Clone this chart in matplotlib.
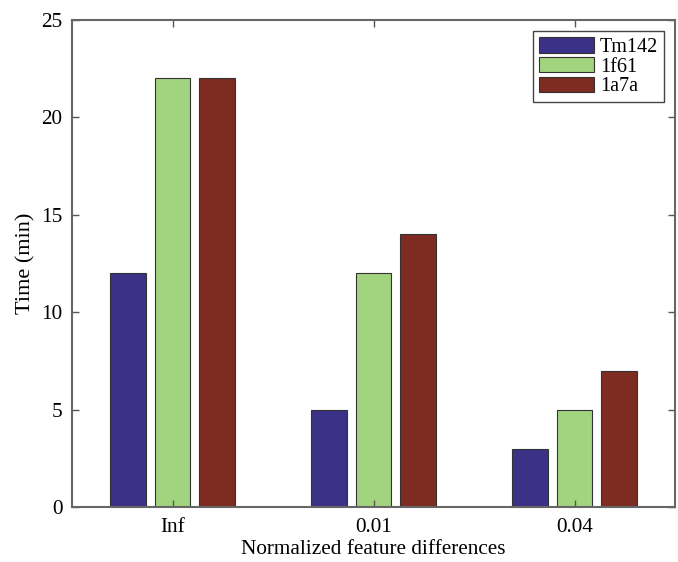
import numpy as np
import matplotlib.pyplot as plt

plt.rcParams['font.family'] = ['Liberation Serif', 'DejaVu Serif']

groups = ['Inf', '0.01', '0.04']
series = ['Tm142', '1f61', '1a7a']
tm142 = [12, 5, 3]
f61 = [22, 12, 5]
a7a = [22, 14, 7]
colors = ['#3b3186', '#a2d47f', '#7e2b22']

fig = plt.figure(figsize=(6.78, 5.62), dpi=100)
ax = fig.add_axes([72/678, 1-507/562, 603/678, 487/562])

x = np.arange(1, len(groups) + 1)
slot = 0.2222
w = 0.178
for i, (vals, name) in enumerate(zip([tm142, f61, a7a], series)):
    ax.bar(x + (i - 1) * slot, vals, width=w, color=colors[i],
           edgecolor='#333333', linewidth=0.8, label=name)

ax.set_xlim(0.5, 3.5)
ax.set_ylim(0, 25)
ax.set_xticks(x)
ax.set_xticklabels(groups)
ax.set_yticks([0, 5, 10, 15, 20, 25])
ax.tick_params(direction='in', top=True, right=True, labelsize=15.3,
               color='#555555', length=5, width=1)
ax.tick_params(axis='x', pad=8)
ax.tick_params(axis='y', pad=7)
for s in ax.spines.values():
    s.set_color('#666666')
    s.set_linewidth(1.5)

ax.set_xlabel('Normalized feature differences', fontsize=15.3, labelpad=2)
ax.set_ylabel('Time (min)', fontsize=16, labelpad=4)

leg = ax.legend(loc='upper right', fontsize=14.5, fancybox=False,
                edgecolor='#444444', framealpha=1, handlelength=2.7,
                handleheight=0.8, borderpad=0.3, labelspacing=0.0,
                handletextpad=0.3, borderaxespad=0,
                bbox_to_anchor=(0.982, 0.977))
leg.get_frame().set_linewidth(1.0)

plt.savefig('out.png', dpi=100)
